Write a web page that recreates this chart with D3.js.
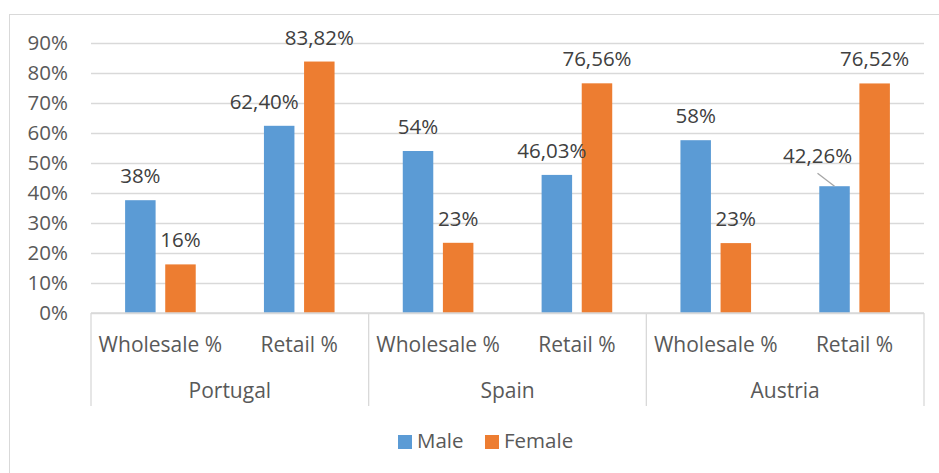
<!DOCTYPE html>
<html>
<head>
<meta charset="utf-8">
<script src="https://cdn.jsdelivr.net/npm/d3@7"></script>
<style>
  body { margin: 0; background: #fff; }
  svg { display: block; font-family: "Open Sans", sans-serif; }
</style>
</head>
<body>
<svg id="chart" width="939" height="473"></svg>
<script>
// data
var countries = ["Portugal", "Spain", "Austria"];
var metrics = ["Wholesale %", "Retail %"];
var seriesNames = ["Male", "Female"];
var maleWholesale = [37.6, 54.0, 57.6];
var maleRetail = [62.40, 46.03, 42.26];
var femaleWholesale = [16.2, 23.4, 23.3];
var femaleRetail = [83.82, 76.56, 76.52];
var yTicks = [0, 10, 20, 30, 40, 50, 60, 70, 80, 90];

// labels that were dragged away from their default spot in the original
var labelNudge = {
  "Portugal|Retail %|Male": {dx: -15, dy: 0},
  "Spain|Retail %|Male": {dx: -5, dy: 0},
  "Austria|Retail %|Male": {dx: -17, dy: -6, leader: true}
};

var colors = {Male: "#5b9bd5", Female: "#ed7d31"};

var rows = [];
countries.forEach(function(c, i) {
  rows.push({country: c, metric: "Wholesale %", Male: maleWholesale[i], Female: femaleWholesale[i]});
  rows.push({country: c, metric: "Retail %", Male: maleRetail[i], Female: femaleRetail[i]});
});

var svg = d3.select("#chart"),
    margin = {top: 43, right: 15, bottom: 160, left: 91},
    width = 924 - margin.left,
    height = 313 - margin.top;

// chart area border
svg.append("rect")
    .attr("x", 9.5).attr("y", 14.5)
    .attr("width", 940).attr("height", 470)
    .attr("fill", "none")
    .attr("stroke", "#d9d9d9");

var g = svg.append("g")
    .attr("transform", "translate(" + margin.left + "," + margin.top + ")");

var x0 = d3.scaleBand().domain(countries).range([0, width]);
var x1 = d3.scaleBand().domain(metrics).range([0, x0.bandwidth()]);
var x2 = d3.scaleBand().domain(seriesNames).range([0, x1.bandwidth()])
    .paddingInner(0.24).paddingOuter(0.85);
var y = d3.scaleLinear().domain([0, 90]).range([height, 0]);

// gridlines + y labels
var yAxis = g.append("g")
    .call(d3.axisLeft(y).tickValues(yTicks).tickSize(-width).tickPadding(23)
      .tickFormat(function(d) { return d + "%"; }));
yAxis.select(".domain").remove();
yAxis.selectAll(".tick line").attr("stroke", "#d9d9d9").attr("stroke-width", 1.3);
yAxis.selectAll(".tick text")
    .attr("fill", "#595959")
    .style("font-size", "20.5px")
    .style("font-family", "'Open Sans', sans-serif");

// bars
var groups = g.selectAll(".grp")
    .data(rows)
    .enter().append("g")
    .attr("class", "grp")
    .attr("transform", function(d) { return "translate(" + (x0(d.country) + x1(d.metric)) + ",0)"; });

groups.selectAll("rect")
    .data(function(d) { return seriesNames.map(function(s) { return {row: d, key: s, value: d[s]}; }); })
    .enter().append("rect")
    .attr("x", function(d) { return x2(d.key); })
    .attr("y", function(d) { return y(d.value); })
    .attr("width", x2.bandwidth())
    .attr("height", function(d) { return height - y(d.value); })
    .attr("fill", function(d) { return colors[d.key]; });

function fmt(d) {
  if (d.row.metric === "Wholesale %") return Math.round(d.value) + "%";
  return d.value.toFixed(2).replace(".", ",") + "%";
}

groups.each(function(row) {
  var sel = d3.select(this);
  seriesNames.forEach(function(s) {
    var d = {row: row, key: s, value: row[s]};
    var n = labelNudge[row.country + "|" + row.metric + "|" + s] || {dx: 0, dy: 0};
    var cx = x2(s) + x2.bandwidth() / 2;
    var ty = y(d.value) - 17 + n.dy;
    if (n.leader) {
      sel.append("line")
          .attr("x1", cx + n.dx).attr("y1", ty + 10)
          .attr("x2", cx).attr("y2", y(d.value))
          .attr("stroke", "#a6a6a6").attr("stroke-width", 1.3);
    }
    sel.append("text")
        .attr("x", cx + n.dx)
        .attr("y", ty)
        .attr("text-anchor", "middle")
        .attr("fill", "#404040")
        .style("font-size", "20.5px")
        .text(fmt(d));
  });
});

// category axis (two levels)
var ax = g.append("g").attr("transform", "translate(0," + height + ")");
ax.append("line")
    .attr("x1", 0).attr("x2", width)
    .attr("stroke", "#d9d9d9").attr("stroke-width", 1.3);

var sepX = countries.map(function(c) { return x0(c); }).concat([width]);
ax.selectAll(".sep")
    .data(sepX)
    .enter().append("line")
    .attr("class", "sep")
    .attr("x1", function(d) { return d; }).attr("x2", function(d) { return d; })
    .attr("y1", 0).attr("y2", 93)
    .attr("stroke", "#d9d9d9").attr("stroke-width", 1.3);

ax.selectAll(".sub")
    .data(rows)
    .enter().append("text")
    .attr("class", "sub")
    .attr("x", function(d) { return x0(d.country) + x1(d.metric) + x1.bandwidth() / 2; })
    .attr("y", 39)
    .attr("text-anchor", "middle")
    .attr("fill", "#595959")
    .style("font-size", "21px")
    .text(function(d) { return d.metric; });

ax.selectAll(".cty")
    .data(countries)
    .enter().append("text")
    .attr("class", "cty")
    .attr("x", function(d) { return x0(d) + x0.bandwidth() / 2; })
    .attr("y", 85)
    .attr("text-anchor", "middle")
    .attr("fill", "#595959")
    .style("font-size", "21px")
    .text(function(d) { return d; });

// legend
var legendX = [398, 485];
var legend = svg.selectAll(".legend")
    .data(seriesNames)
    .enter().append("g")
    .attr("class", "legend")
    .attr("transform", function(d, i) { return "translate(" + legendX[i] + ",435)"; });

legend.append("rect")
    .attr("width", 14).attr("height", 14)
    .attr("fill", function(d) { return colors[d]; });

legend.append("text")
    .attr("x", 19).attr("y", 13)
    .attr("fill", "#595959")
    .style("font-size", "20.5px")
    .text(function(d) { return d; });
</script>
</body>
</html>
